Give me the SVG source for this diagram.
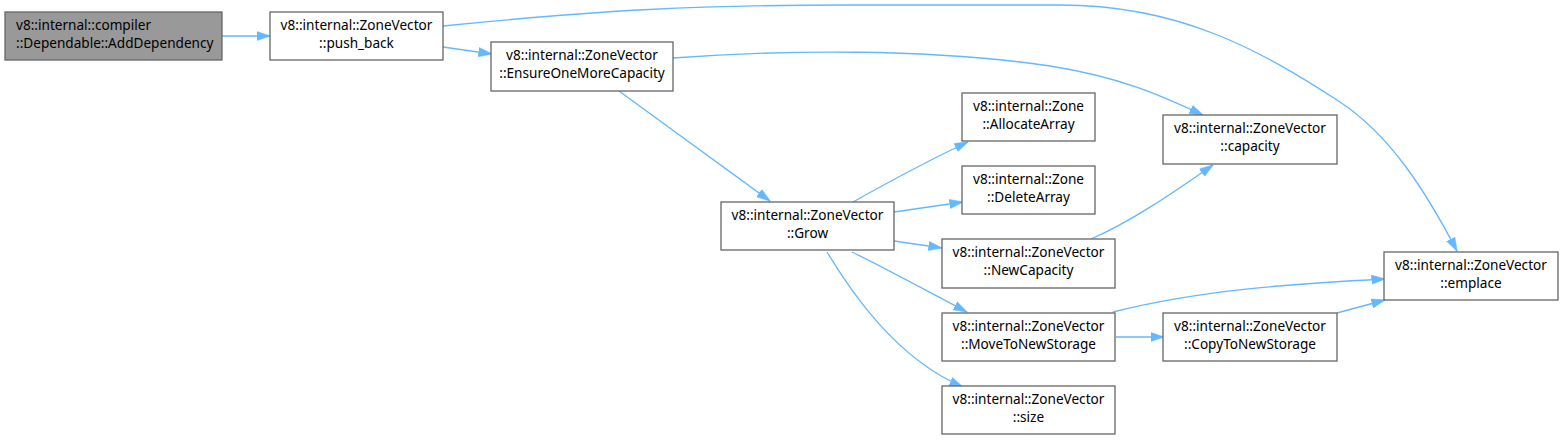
<svg xmlns="http://www.w3.org/2000/svg" width="1564" height="440" viewBox="0 0 1564 440">
<style>
.box{fill:#ffffff;stroke:#666666;stroke-width:1.3}
.box.hl{fill:#999999}
text{font-family:"Noto Sans","Open Sans","DejaVu Sans",sans-serif;font-size:13.6px;fill:#000000}
.c{text-anchor:middle}
.e{fill:none;stroke:#63b8ff;stroke-width:1.3;marker-end:url(#ah)}
</style>
<defs>
<marker id="ah" viewBox="0 0 14 10" refX="13.5" refY="5" markerWidth="14" markerHeight="10" markerUnits="userSpaceOnUse" orient="auto">
<path d="M0,0.4 L14,5 L0,9.6 z" fill="#63b8ff" stroke="#63b8ff" stroke-width="0.5"/>
</marker>
</defs>
<rect width="1564" height="440" fill="#ffffff"/>
<g id="connectors">
<path class="e" d="M222,36 L270,36"/>
<path class="e" d="M443,47 L492,54"/>
<path class="e" d="M443,26 C600,10 700,5 850,5 L1060,5 C1180,5 1260,50 1340,102 C1390,135 1425,190 1457,251"/>
<path class="e" d="M673,58 C780,50 930,48 1050,66 C1120,77 1160,95 1203,115"/>
<path class="e" d="M619,91 L770,201"/>
<path class="e" d="M853,202 C885,184 925,162 968,142"/>
<path class="e" d="M894,212 L963,202"/>
<path class="e" d="M894,241 L942,248"/>
<path class="e" d="M852,252 C885,268 925,290 967,312"/>
<path class="e" d="M827,252 C850,290 895,358 963,387"/>
<path class="e" d="M1091,239 C1130,222 1170,195 1213,165"/>
<path class="e" d="M1113,312 C1200,290 1290,284 1385,279"/>
<path class="e" d="M1116,337 L1164,337"/>
<path class="e" d="M1337,313 L1385,300"/>
</g>
<g id="node-AddDependency">
<rect class="box hl" x="5" y="12" width="217" height="48"/>
<text x="16" y="30">v8::internal::compiler</text>
<text x="16" y="48">::Dependable::AddDependency</text>
</g>
<g id="node-push_back">
<rect class="box" x="270" y="12" width="173" height="48"/>
<text class="c" x="356.5" y="30">v8::internal::ZoneVector</text>
<text class="c" x="356.5" y="48">::push_back</text>
</g>
<g id="node-EnsureOneMoreCapacity">
<rect class="box" x="491" y="42" width="182" height="49"/>
<text class="c" x="582" y="60">v8::internal::ZoneVector</text>
<text class="c" x="582" y="78">::EnsureOneMoreCapacity</text>
</g>
<g id="node-AllocateArray">
<rect class="box" x="962" y="93" width="133" height="48"/>
<text class="c" x="1028.5" y="111">v8::internal::Zone</text>
<text class="c" x="1028.5" y="129">::AllocateArray</text>
</g>
<g id="node-DeleteArray">
<rect class="box" x="962" y="166" width="133" height="48"/>
<text class="c" x="1028.5" y="184">v8::internal::Zone</text>
<text class="c" x="1028.5" y="202">::DeleteArray</text>
</g>
<g id="node-capacity">
<rect class="box" x="1163" y="115" width="174" height="49"/>
<text class="c" x="1250" y="133">v8::internal::ZoneVector</text>
<text class="c" x="1250" y="151">::capacity</text>
</g>
<g id="node-Grow">
<rect class="box" x="721" y="202" width="173" height="48"/>
<text class="c" x="807.5" y="220">v8::internal::ZoneVector</text>
<text class="c" x="807.5" y="238">::Grow</text>
</g>
<g id="node-NewCapacity">
<rect class="box" x="942" y="239" width="173" height="49"/>
<text class="c" x="1028.5" y="257">v8::internal::ZoneVector</text>
<text class="c" x="1028.5" y="275">::NewCapacity</text>
</g>
<g id="node-emplace">
<rect class="box" x="1384" y="252" width="174" height="48"/>
<text class="c" x="1471" y="270">v8::internal::ZoneVector</text>
<text class="c" x="1471" y="288">::emplace</text>
</g>
<g id="node-MoveToNewStorage">
<rect class="box" x="942" y="313" width="173" height="48"/>
<text class="c" x="1028.5" y="331">v8::internal::ZoneVector</text>
<text class="c" x="1028.5" y="349">::MoveToNewStorage</text>
</g>
<g id="node-CopyToNewStorage">
<rect class="box" x="1163" y="313" width="174" height="48"/>
<text class="c" x="1250" y="331">v8::internal::ZoneVector</text>
<text class="c" x="1250" y="349">::CopyToNewStorage</text>
</g>
<g id="node-size">
<rect class="box" x="942" y="386" width="173" height="48"/>
<text class="c" x="1028.5" y="404">v8::internal::ZoneVector</text>
<text class="c" x="1028.5" y="422">::size</text>
</g>
</svg>
